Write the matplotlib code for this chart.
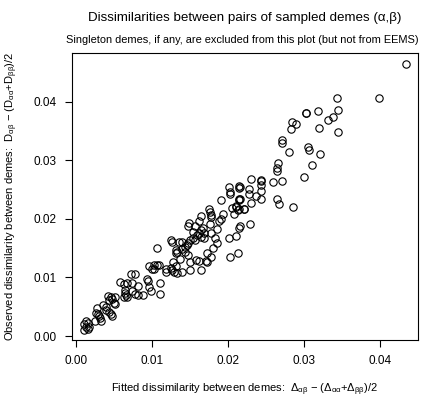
import numpy as np
import matplotlib
matplotlib.use('Agg')
import matplotlib.pyplot as plt

plt.rcParams['font.family'] = ['Liberation Sans', 'DejaVu Sans']
plt.rcParams['mathtext.fontset'] = 'custom'
plt.rcParams['mathtext.rm'] = 'Liberation Sans'
plt.rcParams['mathtext.it'] = 'Liberation Sans'
plt.rcParams['mathtext.bf'] = 'Liberation Sans:bold'

# fitted (x) vs observed (y) dissimilarities
fitted = [
    0.0434, 0.0398, 0.0343, 0.0344, 0.0338, 0.0332, 0.0318, 0.0302, 0.0302, 0.0320,
    0.0344, 0.0284, 0.0289, 0.0283, 0.0271, 0.0271, 0.0280, 0.0305, 0.0307, 0.0321,
    0.0266, 0.0264, 0.0265, 0.0310, 0.0300, 0.0271, 0.0259, 0.0243, 0.0243, 0.0230,
    0.0244, 0.0227, 0.0244, 0.0228, 0.0237, 0.0216, 0.0216, 0.0243, 0.0230, 0.0264,
    0.0267, 0.0286, 0.0221,
    0.0201, 0.0214, 0.0214, 0.0202, 0.0202, 0.0215, 0.0214, 0.0191, 0.0210, 0.0205,
    0.0214, 0.0208, 0.0193, 0.0175, 0.0176, 0.0177, 0.0178, 0.0164, 0.0211, 0.0213,
    0.0221, 0.0229, 0.0216, 0.0214, 0.0201, 0.0211, 0.0213, 0.0203, 0.0191, 0.0188,
    0.0162, 0.0149, 0.0148, 0.0176, 0.0156, 0.0186, 0.0167, 0.0164, 0.0162, 0.0169,
    0.0154, 0.0159, 0.0165, 0.0168, 0.0178, 0.0154, 0.0156, 0.0150, 0.0183, 0.0148,
    0.0146, 0.0143, 0.0139, 0.0125, 0.0126, 0.0136, 0.0139, 0.0107, 0.0185, 0.0132,
    0.0132, 0.0133, 0.0180, 0.0143, 0.0148, 0.0173, 0.0137, 0.0177, 0.0128, 0.0158,
    0.0162, 0.0171, 0.0172, 0.0150, 0.0107, 0.0096, 0.0100, 0.0103, 0.0132, 0.0125,
    0.0126, 0.0118, 0.0119, 0.0150, 0.0164, 0.0129, 0.0133, 0.0139, 0.0094,
    0.0109, 0.0103, 0.0073, 0.0078, 0.0095, 0.0111, 0.0058, 0.0063, 0.0067, 0.0074,
    0.0081, 0.0096, 0.0099, 0.0110, 0.0064, 0.0065, 0.0066, 0.0063, 0.0067, 0.0074,
    0.0078, 0.0082, 0.0088, 0.0042, 0.0046, 0.0048, 0.0044, 0.0052, 0.0050, 0.0052,
    0.0036, 0.0039, 0.0039, 0.0043, 0.0046, 0.0047, 0.0028, 0.0026, 0.0029, 0.0030,
    0.0032, 0.0033, 0.0025, 0.0013, 0.0016, 0.0010, 0.0013, 0.0017, 0.0011, 0.0016,
]
observed = [
    0.0465, 0.0407, 0.0406, 0.0385, 0.0374, 0.0369, 0.0384, 0.0381, 0.0380, 0.0355,
    0.0348, 0.0365, 0.0361, 0.0354, 0.0335, 0.0330, 0.0314, 0.0322, 0.0317, 0.0310,
    0.0296, 0.0287, 0.0282, 0.0292, 0.0272, 0.0264, 0.0263, 0.0267, 0.0265, 0.0268,
    0.0257, 0.0251, 0.0247, 0.0242, 0.0239, 0.0255, 0.0234, 0.0233, 0.0227, 0.0233,
    0.0225, 0.0221, 0.0216,
    0.0254, 0.0256, 0.0253, 0.0246, 0.0242, 0.0234, 0.0232, 0.0232, 0.0221, 0.0219,
    0.0217, 0.0209, 0.0209, 0.0216, 0.0211, 0.0206, 0.0203, 0.0204, 0.0222, 0.0215,
    0.0216, 0.0192, 0.0188, 0.0185, 0.0168, 0.0171, 0.0141, 0.0134, 0.0199, 0.0196,
    0.0196, 0.0193, 0.0188, 0.0191, 0.0188, 0.0183, 0.0184, 0.0181, 0.0175, 0.0176,
    0.0177, 0.0172, 0.0169, 0.0167, 0.0175, 0.0167, 0.0164, 0.0163, 0.0168, 0.0158,
    0.0155, 0.0152, 0.0148, 0.0164, 0.0161, 0.0161, 0.0161, 0.0151, 0.0158, 0.0146,
    0.0142, 0.0144, 0.0150, 0.0144, 0.0138, 0.0141, 0.0132, 0.0134, 0.0126, 0.0129,
    0.0128, 0.0128, 0.0126, 0.0126, 0.0122, 0.0119, 0.0115, 0.0114, 0.0119, 0.0116,
    0.0112, 0.0114, 0.0109, 0.0113, 0.0113, 0.0109, 0.0108, 0.0109, 0.0098,
    0.0121, 0.0121, 0.0106, 0.0106, 0.0094, 0.0091, 0.0092, 0.0089, 0.0090, 0.0091,
    0.0086, 0.0083, 0.0077, 0.0072, 0.0079, 0.0074, 0.0070, 0.0067, 0.0067, 0.0076,
    0.0072, 0.0070, 0.0070, 0.0068, 0.0067, 0.0064, 0.0061, 0.0066, 0.0057, 0.0055,
    0.0053, 0.0049, 0.0044, 0.0041, 0.0038, 0.0034, 0.0047, 0.0040, 0.0037, 0.0034,
    0.0030, 0.0026, 0.0026, 0.0026, 0.0022, 0.0020, 0.0016, 0.0015, 0.0010, 0.0012,
]
ticks = [0.00, 0.01, 0.02, 0.03, 0.04]

fig = plt.figure(figsize=(4.28, 3.97), dpi=100)
ax = fig.add_axes([0.168, 0.1436, 0.809, 0.7229])

ax.plot(fitted, observed, linestyle='none', marker='o', markersize=5.3,
        markerfacecolor='none', markeredgecolor='black', markeredgewidth=0.8)

ax.set_xlim(-0.00053, 0.0450)
ax.set_ylim(-0.00068, 0.0483)
ax.set_xticks(ticks)
ax.set_yticks(ticks)
ax.set_xticklabels(['%.2f' % t for t in ticks])
ax.set_yticklabels(['%.2f' % t for t in ticks])
ax.tick_params(direction='out', length=5, width=0.8, labelsize=8.5, pad=6)
for s in ax.spines.values():
    s.set_linewidth(0.8)

ax.set_xlabel(r'Fitted dissimilarity between demes:  $\Delta_{\alpha\beta}$ $-$ ($\Delta_{\alpha\alpha}$+$\Delta_{\beta\beta}$)/2',
              fontsize=8, labelpad=10)
ax.set_ylabel(r'Observed dissimilarity between demes:  D$_{\alpha\beta}$ $-$ (D$_{\alpha\alpha}$+D$_{\beta\beta}$)/2',
              fontsize=8, labelpad=10)

fig.text(0.5725, 0.955, 'Dissimilarities between pairs of sampled demes (\u03b1,\u03b2)',
         ha='center', va='center', fontsize=9.6)
fig.text(0.566, 0.898, 'Singleton demes, if any, are excluded from this plot (but not from EEMS)',
         ha='center', va='center', fontsize=7.9)

fig.savefig('out.png', dpi=100)
